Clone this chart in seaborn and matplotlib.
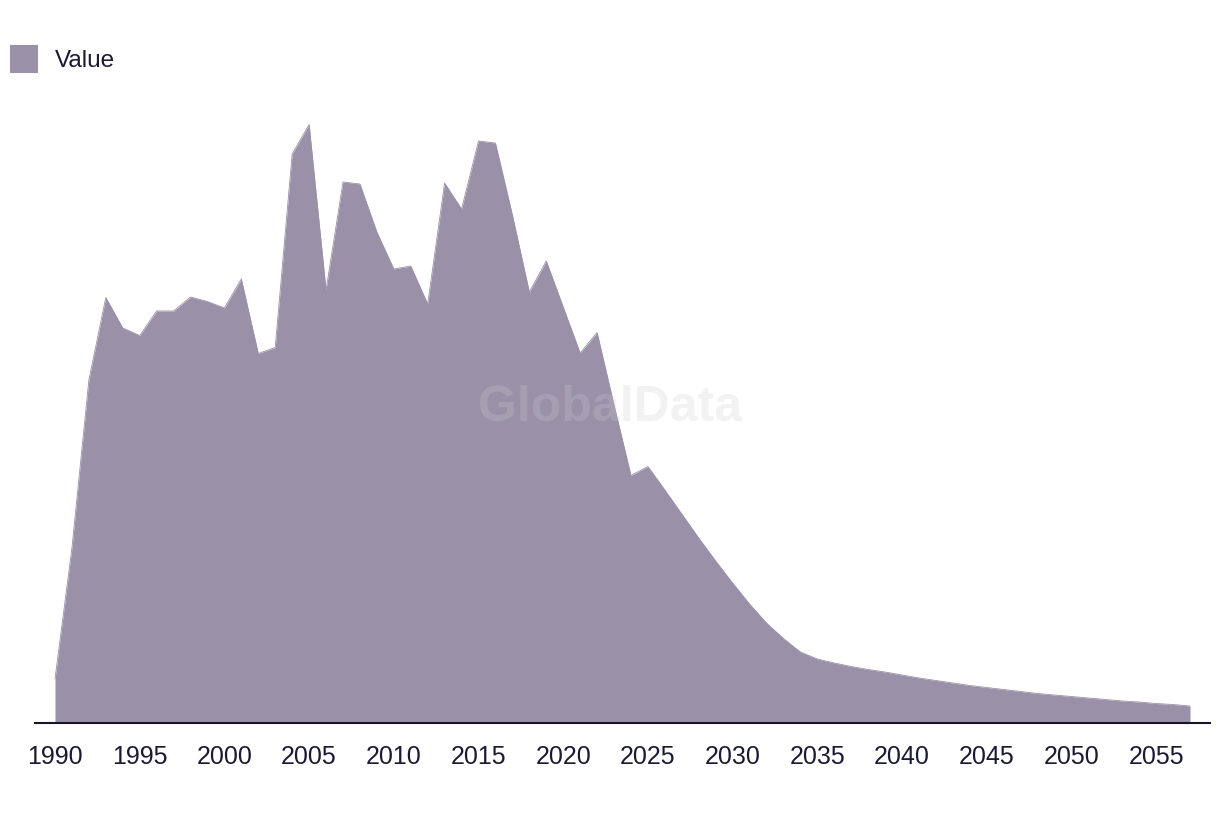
import matplotlib
matplotlib.use("Agg")
import matplotlib.pyplot as plt
from matplotlib.patches import Patch
import seaborn as sns
import pandas as pd

years = list(range(1990, 2058))
values = [
    44, 175, 343, 425.5, 395, 387.5, 412, 412, 426, 421.5,
    415, 444, 369.5, 375.5, 569, 598.5, 433, 541, 539, 491,
    454, 457, 419, 540, 514, 582, 580, 508, 431, 462,
    416, 370, 390.5, 318, 247.5, 256.5, 233, 209, 185, 162,
    140, 119, 100, 84.5, 71, 64, 60, 56.5, 53.5, 51,
    48, 45, 42.5, 40, 37.5, 35.5, 33.5, 31.5, 29.5, 28,
    26.5, 25, 23.5, 22, 21, 19.5, 18.5, 17,
]
tick_years = list(range(1990, 2060, 5))
series_name = "Value"

area_color = "#9a91a9"
text_color = "#1b1a33"

sns.set_theme(style="white")
plt.rcParams["font.family"] = ["Liberation Sans", "DejaVu Sans"]

df = pd.DataFrame({"Year": years, series_name: values})

fig = plt.figure(figsize=(12.2, 8.16), dpi=100)
W, H = 1220, 816
ax = fig.add_axes([35 / W, (H - 723) / H, (1210 - 35) / W, (723 - 100) / H])

sns.lineplot(data=df, x="Year", y=series_name, ax=ax, color=area_color, linewidth=0.6)
ax.fill_between(df["Year"], 0, df[series_name], color=area_color, linewidth=0)

ax.set_xlim(1988.82, 2058.18)
ax.set_ylim(0, 623)
ax.set_xticks(tick_years)
ax.set_xticklabels([str(t) for t in tick_years], fontsize=18, color=text_color)
ax.set_yticks([])
ax.set_xlabel("")
ax.set_ylabel("")
ax.tick_params(axis="x", length=0, pad=16)
for s in ["top", "right", "left"]:
    ax.spines[s].set_visible(False)
ax.spines["bottom"].set_color("#16152b")
ax.spines["bottom"].set_linewidth(1.5)
ax.set_facecolor("white")

fig.text(610 / W, 1 - 408 / H, "GlobalData", fontsize=36, fontweight="bold",
         color="#cccccc", alpha=0.25, ha="center", va="center", zorder=10)

handles = [Patch(facecolor=area_color, edgecolor="none", label=series_name)]
fig.legend(handles=handles, loc="upper left", bbox_to_anchor=(10 / W, 1 - 45 / H),
           frameon=False, fontsize=17.5, labelcolor=text_color,
           handlelength=1.15, handleheight=1.4, handletextpad=0.7,
           borderpad=0, borderaxespad=0)

fig.savefig("out.png", dpi=100, facecolor="white")
